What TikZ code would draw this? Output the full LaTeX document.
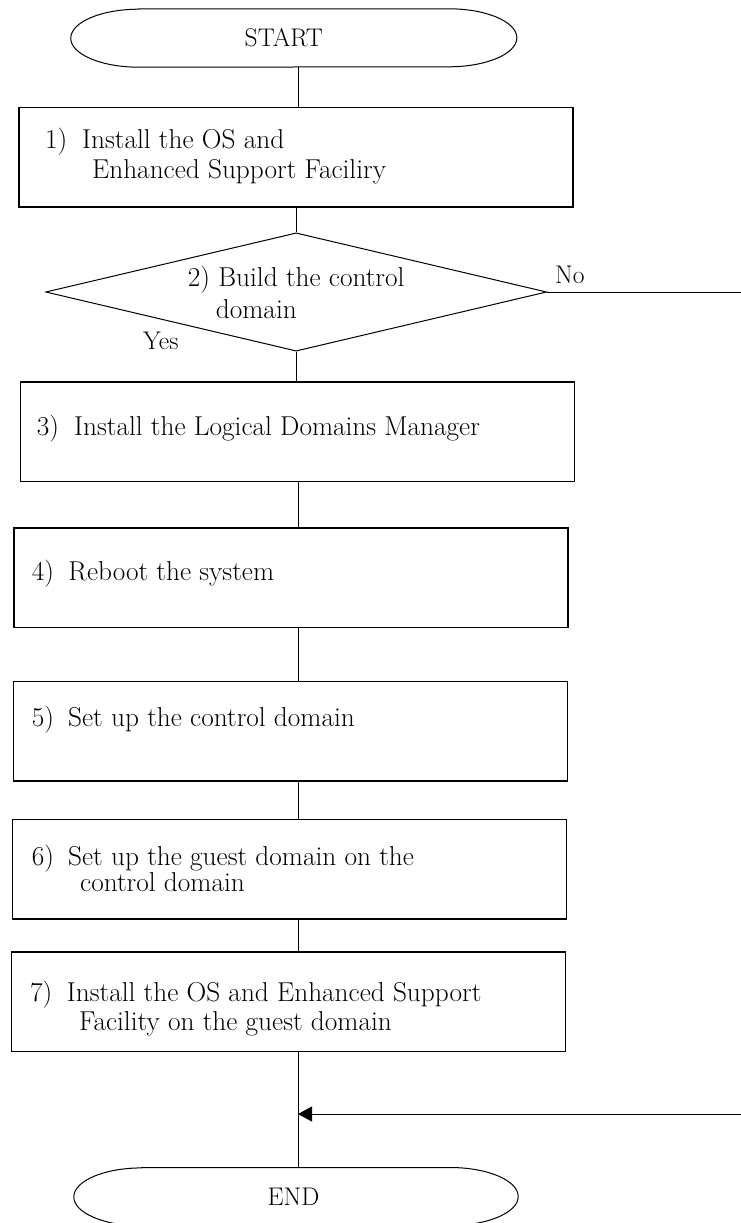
\documentclass[tikz,border=0pt]{standalone}
\usetikzlibrary{shapes.geometric,arrows.meta}
\newcommand\termpath[1]{%
  \draw[line width=1pt] ([xshift=68pt]#1.north west) -- ([xshift=-68pt]#1.north east)
    arc[start angle=90,end angle=-90,x radius=68pt,y radius=29pt]
    -- ([xshift=68pt]#1.south west)
    arc[start angle=270,end angle=90,x radius=68pt,y radius=29pt] -- cycle;}
\begin{document}
\begin{tikzpicture}[x=1pt,y=1pt,
  every node/.style={font=\fontsize{27.3}{32}\selectfont},
  box/.style={draw, line width=1.3pt, minimum width=554pt, minimum height=99.5pt, inner sep=0pt},
  lbl/.style={inner sep=0pt, anchor=base west},
  small/.style={font=\fontsize{25.5}{30}\selectfont},
  term/.style={inner sep=0pt, minimum height=58pt, font=\fontsize{25.5}{30}\selectfont},
  dec/.style={draw, shape=diamond, aspect=4.235, line width=1pt, minimum width=501pt, minimum height=118.3pt, inner sep=0pt, align=left},
  conn/.style={line width=1pt}]
\useasboundingbox (0,0) rectangle (741,-1223);

% terminals
\node[term, minimum width=445.7pt] (st) at (293.8,-38) {\hspace*{-20pt}START};
\termpath{st}
\node[term, minimum width=444pt] (en) at (296,-1196.7) {\hspace*{-5pt}END};
\termpath{en}

% process boxes
\node[box] (b1) at (296,-157.3) {};
\node[box] (b3) at (297.3,-431.7) {};
\node[box] (b4) at (291,-577.7) {};
\node[box] (b5) at (290.8,-731.3) {};
\node[box] (b6) at (289.8,-869.3) {};
\node[box] (b7) at (288.7,-1001.6) {};

% decision
\node[dec] (dia) at (296.2,-292) {2) Build the control\\\hspace*{28pt}domain};

% texts
\node[lbl] (t1a) at (45,-148) {\makebox[37pt][l]{1)}Install the OS and};
\node[lbl] (t1b) at (92,-178) {Enhanced Support Faciliry};
\node[lbl] (t3) at (36.7,-435) {\makebox[37.3pt][l]{3)}Install the Logical Domains Manager};
\node[lbl] (t4) at (31.7,-580) {\makebox[36.6pt][l]{4)}Reboot the system};
\node[lbl] (t5) at (31.7,-726) {\makebox[36.3pt][l]{5)}Set up the control domain};
\node[lbl] (t6a) at (31.7,-865) {\makebox[36.3pt][l]{6)}Set up the guest domain on the};
\node[lbl] (t6b) at (80,-891) {control domain};
\node[lbl] (t7a) at (30,-1001) {\makebox[36.7pt][l]{7)}Install the OS and Enhanced Support};
\node[lbl] (t7b) at (79,-1030) {Facility on the guest domain};
\node[lbl, small] (yes) at (143,-349) {Yes};
\node[lbl, small] (no) at (555,-283) {No};

% connectors
\coordinate (sp) at (298,0);
\coordinate (rt) at (741,0);
\draw[conn] (st.south -| sp) -- (b1.north -| sp);
\draw[conn] (dia.north |- b1.south) -- (dia.north);
\draw[conn] (dia.south) -- (dia.south |- b3.north);
\draw[conn] (b3.south -| sp) -- (b4.north -| sp);
\draw[conn] (b4.south -| sp) -- (b5.north -| sp);
\draw[conn] (b5.south -| sp) -- (b6.north -| sp);
\draw[conn] (b6.south -| sp) -- (b7.north -| sp);
\draw[conn] (b7.south -| sp) -- (en.north -| sp);
\draw[conn] (dia.east) -- (dia.east -| rt);
\coordinate (ret) at (741,-1114);
\coordinate (mg) at (sp |- ret);
\draw[conn,-{Triangle[length=14pt,width=15pt]}] (ret) -- (mg);
\end{tikzpicture}
\end{document}
